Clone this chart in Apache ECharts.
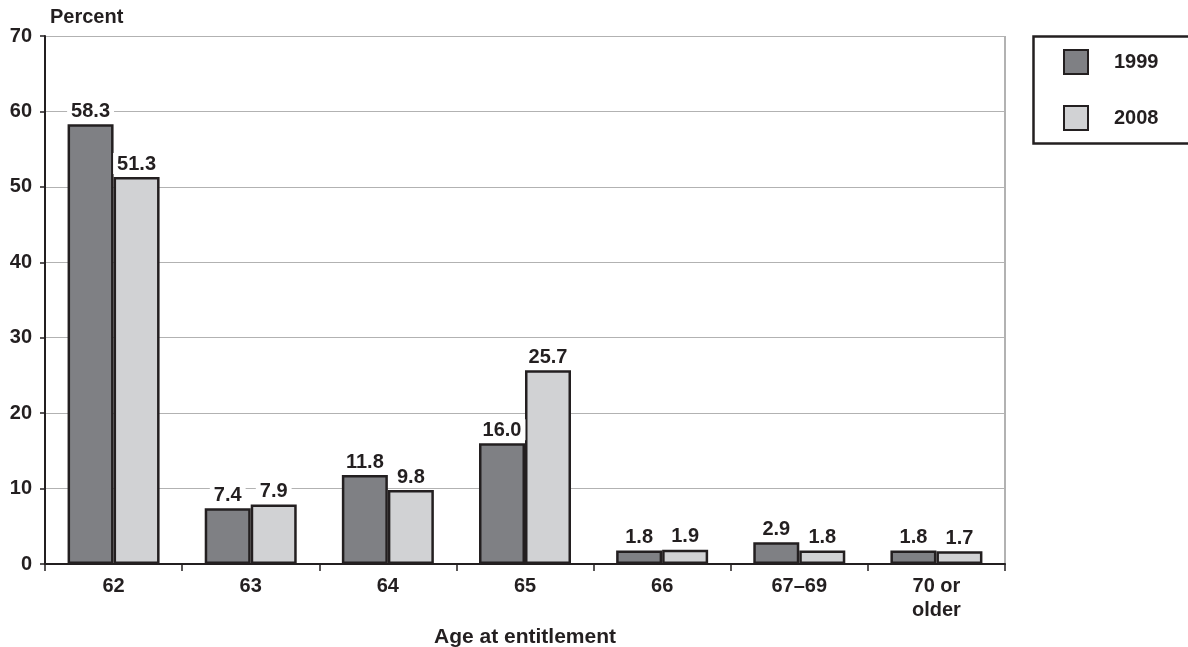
<!DOCTYPE html>
<html>
<head>
<meta charset="utf-8">
<script src="https://cdn.jsdelivr.net/npm/echarts@6/dist/echarts.min.js"></script>
<style>
  html, body { margin: 0; padding: 0; background: #fff; }
  #chart { width: 1188px; height: 647px; }
</style>
</head>
<body>
<div id="chart"></div>
<script>
// Age at entitlement categories and the share of beneficiaries (percent) in each
const categories = ['62', '63', '64', '65', '66', '67–69', '70 or\nolder'];
const values1999 = [58.3, 7.4, 11.8, 16.0, 1.8, 2.9, 1.8];
const values2008 = [51.3, 7.9, 9.8, 25.7, 1.9, 1.8, 1.7];
const seriesNames = ['1999', '2008'];
const yTicks = [0, 10, 20, 30, 40, 50, 60, 70];

const FONT = '"Liberation Sans", Arial, Helvetica, sans-serif';
const INK = '#231f20';
const GRID = '#b2b2b2';

const chart = echarts.init(document.getElementById('chart'));

const labelStyle = {
  show: true,
  position: 'top',
  distance: 3,
  formatter: p => p.value.toFixed(1),
  fontFamily: FONT,
  fontWeight: 'bold',
  fontSize: 20,
  color: INK,
  backgroundColor: '#fff',
  padding: [1, 4, 0, 4]
};

function barSeries(name, data, fill) {
  return {
    name: name,
    type: 'bar',
    data: data,
    barWidth: 46,
    barGap: '0%',
    itemStyle: { color: fill, borderColor: INK, borderWidth: 2.5 },
    label: labelStyle,
    emphasis: { disabled: true }
  };
}

chart.setOption({
  animation: false,
  backgroundColor: '#fff',
  textStyle: { fontFamily: FONT },
  grid: {
    left: 45, right: 183, top: 36, bottom: 83,
    containLabel: false,
    outerBoundsMode: 'none'
  },
  legend: {
    orient: 'vertical',
    left: 1063,
    top: 49,
    itemWidth: 24,
    itemHeight: 24,
    itemGap: 30,
    icon: 'rect',
    padding: 0,
    data: seriesNames,
    textStyle: { fontFamily: FONT, fontWeight: 'bold', fontSize: 20, color: INK, padding: [0, 0, 0, 21] }
  },
  graphic: [
    {
      type: 'rect',
      left: 1031,
      top: 34,
      shape: { width: 170, height: 107 },
      style: { fill: 'none', stroke: INK, lineWidth: 2.5 },
      z: 10
    },
    {
      type: 'line',
      shape: { x1: 1005, y1: 36, x2: 1005, y2: 564 },
      style: { stroke: GRID, lineWidth: 2 },
      z: 0
    },
    {
      type: 'text',
      left: 50,
      top: 7,
      style: { text: 'Percent', font: 'bold 20px ' + FONT, fill: INK }
    }
  ],
  xAxis: {
    type: 'category',
    data: categories,
    name: 'Age at entitlement',
    nameLocation: 'middle',
    nameGap: 59,
    nameTextStyle: { fontFamily: FONT, fontWeight: 'bold', fontSize: 21, color: INK },
    axisLine: { lineStyle: { color: INK, width: 2 } },
    axisTick: { show: true, length: 7, lineStyle: { color: INK, width: 1.5 } },
    axisLabel: {
      fontFamily: FONT, fontWeight: 'bold', fontSize: 20, color: INK,
      margin: 10, lineHeight: 24
    }
  },
  yAxis: {
    type: 'value',
    min: 0,
    max: 70,
    interval: 10,
    axisLine: { show: true, lineStyle: { color: INK, width: 2 } },
    axisTick: { show: true, length: 5, lineStyle: { color: INK, width: 1.5 } },
    splitLine: { lineStyle: { color: GRID, width: 1.2 } },
    axisLabel: {
      fontFamily: FONT, fontWeight: 'bold', fontSize: 20, color: INK, margin: 13,
      formatter: v => (yTicks.includes(v) ? String(v) : '')
    }
  },
  series: [
    barSeries(seriesNames[0], values1999, '#7f8084'),
    barSeries(seriesNames[1], values2008, '#d1d2d4')
  ]
});
</script>
</body>
</html>
